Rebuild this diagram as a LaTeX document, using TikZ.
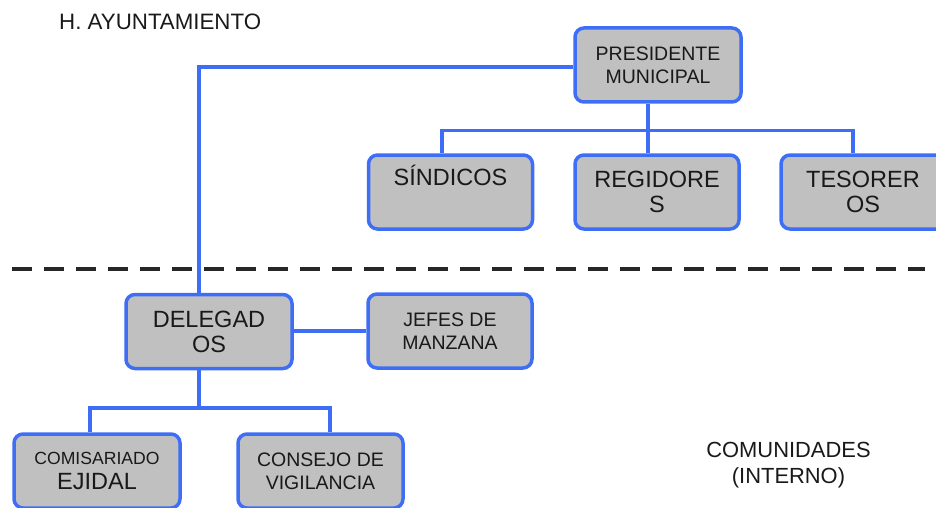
\documentclass[tikz,border=0pt]{standalone}
\usepackage{fontspec}
\setmainfont{Liberation Sans}
\definecolor{lineblue}{RGB}{61,110,245}
\definecolor{boxgray}{RGB}{192,192,192}
\definecolor{txt}{RGB}{25,25,25}
\tikzset{
  orgbox/.style={draw=lineblue, line width=3.5pt, fill=boxgray, rounded corners=9pt,
    minimum width=164pt, minimum height=74pt, inner sep=0pt, align=center, text=txt},
  smalltxt/.style={font=\fontsize{19.5}{23}\selectfont},
  bigtxt/.style={font=\fontsize{23.5}{25}\selectfont},
  conn/.style={draw=lineblue, line width=3.5pt},
  plain/.style={inner sep=0pt, align=center, text=txt},
}
\begin{document}
\begin{tikzpicture}[x=1pt,y=-1pt]
\useasboundingbox (0,0) rectangle (936,508);
% boxes
\node[orgbox, smalltxt, minimum width=166pt] (pres) at (658,65) {PRESIDENTE\\MUNICIPAL};
\node[orgbox, bigtxt] (sind) at (450.5,192) {SÍNDICOS\\\strut~};
\node[orgbox, bigtxt] (regi) at (657,192) {REGIDORE\\S};
\node[orgbox, bigtxt] (teso) at (863,192) {TESORER\\OS};
\node[orgbox, bigtxt, minimum width=166pt] (dele) at (209,331.5) {DELEGAD\\OS};
\node[orgbox, smalltxt] (jefe) at (450,331) {JEFES DE\\MANZANA};
\node[orgbox, bigtxt, minimum width=166pt] (comi) at (97,471) {{\fontsize{17.6}{24}\selectfont COMISARIADO}\\EJIDAL};
\node[orgbox, smalltxt, minimum width=165pt] (cons) at (320.5,471) {CONSEJO DE\\VIGILANCIA};
% labels
\node[plain, anchor=west, font=\fontsize{22.3}{24}\selectfont] (hay) at (59,22) {H. AYUNTAMIENTO};
\node[plain, font=\fontsize{21.9}{26}\selectfont] (comu) at (788.5,465) {COMUNIDADES\\(INTERNO)};
% dashed separator
\coordinate (dl) at (12,269);
\coordinate (dr) at (925,269);
\draw[line width=4.5pt, dash pattern=on 20pt off 12pt, black!85] (dl) -- (dr);
% connectors
\coordinate (ja) at (199,67);
\coordinate (jb) at (648,130.5);
\coordinate (jc) at (199,408);
\draw[conn] (pres.west |- ja) -- (ja) -- (dele.north -| ja);
\draw[conn] (pres.south -| jb) -- (regi.north -| jb);
\draw[conn] (sind.north -| 442,0) -- (442,130.5) -- (853,130.5) -- (teso.north -| 853,0);
\draw[conn] (dele.east |- 0,331) -- (jefe.west |- 0,331);
\draw[conn] (dele.south -| jc) -- (jc);
\draw[conn] (comi.north -| 90,0) -- (90,408) -- (330,408) -- (cons.north -| 330,0);
\end{tikzpicture}
\end{document}
